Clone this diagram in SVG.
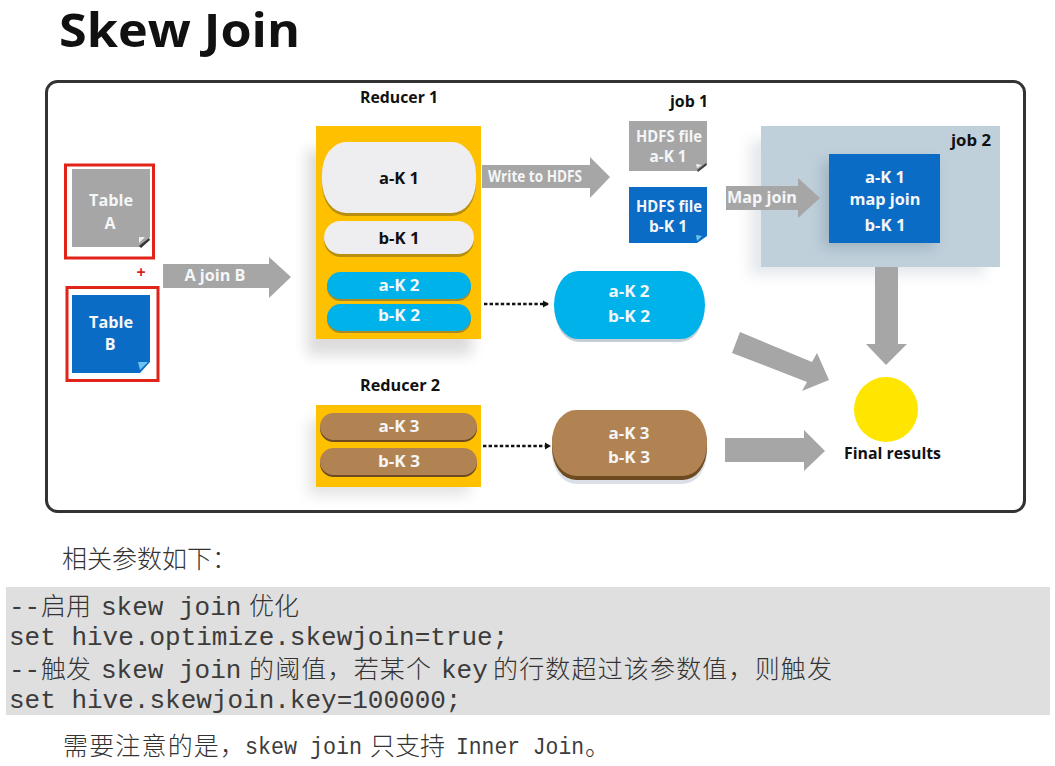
<svg xmlns="http://www.w3.org/2000/svg" width="1055" height="766" viewBox="0 0 1055 766">
<style>
  .lbl { font-family: "Open Sans", "Liberation Sans", sans-serif; font-weight: 700; font-size: 16px; text-anchor: middle; }
  .w { fill: #f4f6f8; }
  .k { fill: #111; }
  .hd { font-family: "Open Sans", "Liberation Sans", sans-serif; font-weight: 700; font-size: 16px; fill: #111; }
  .arrow { fill: #a6a6a6; }
  .mono { font-family: "Liberation Mono", monospace; font-size: 26px; fill: #3c3c3c; }
  .cjk { font-family: "Noto Sans CJK SC", sans-serif; font-size: 25px; fill: #333; font-weight: 300; }
  .dot { fill: none; stroke: #111; stroke-width: 2.4; stroke-dasharray: 3.4 2.2; }
</style>
<defs>
  <filter id="soft" x="-30%" y="-30%" width="160%" height="160%"><feGaussianBlur stdDeviation="7"/></filter>
  <marker id="tip" viewBox="0 0 8 8" refX="6" refY="4" markerWidth="8" markerHeight="8" markerUnits="userSpaceOnUse" orient="auto"><path d="M1 0.5 L7 4 L1 7.5 Z" fill="#111"/></marker>
</defs>
<rect width="1055" height="766" fill="#fff"/>

<text id="title" x="59" y="47" font-family="'Open Sans','Liberation Sans',sans-serif" font-weight="700" font-size="46" fill="#111" textLength="241" lengthAdjust="spacingAndGlyphs">Skew Join</text>

<rect id="frame" x="46.5" y="81.5" width="978" height="430" rx="11" fill="#fff" stroke="#333" stroke-width="3"/>

<g id="job2">
  <rect x="750" y="140" width="235" height="135" fill="#e4e8ec" filter="url(#soft)"/>
  <rect x="761" y="126" width="239" height="141" fill="#bfd0db"/>
  <rect x="823" y="160" width="112" height="88" fill="#9fb2be" filter="url(#soft)"/>
  <rect x="829" y="154" width="111" height="89" fill="#0a6cc4"/>
  <text class="hd" x="951" y="146" textLength="40" lengthAdjust="spacingAndGlyphs">job 2</text>
  <text class="lbl w" x="885" y="183" textLength="40" lengthAdjust="spacingAndGlyphs">a-K 1</text>
  <text class="lbl w" x="885" y="205" textLength="71" lengthAdjust="spacingAndGlyphs">map join</text>
  <text class="lbl w" x="885" y="231" textLength="41" lengthAdjust="spacingAndGlyphs">b-K 1</text>
</g>

<g id="table-a">
  <rect x="65.5" y="165" width="88" height="93" fill="#fff" stroke="#e2231a" stroke-width="3"/>
  <path d="M72 169 H150 V237 L140 247 H72 Z" fill="#a6a6a6"/>
  <path d="M139 246 L149 238 L150 240 L141 248 Z" fill="#333"/>
  <path d="M139 237 L145 237 L139 243 Z" fill="#eee"/>
  <text class="lbl w" x="111" y="206" textLength="44" lengthAdjust="spacingAndGlyphs">Table</text>
  <text class="lbl w" x="110" y="229">A</text>
</g>
<text id="plus" x="141" y="278" font-family="'Open Sans',sans-serif" font-weight="700" font-size="16" fill="#d8231c" text-anchor="middle">+</text>
<g id="table-b">
  <rect x="67" y="287.5" width="91" height="93" fill="#fff" stroke="#e2231a" stroke-width="3"/>
  <path d="M72 295 H150 V362 L140 373 H72 Z" fill="#0a6cc4"/>
  <path d="M138 362 L148 362 L140 370 Z" fill="#6cc3ee"/>
  <text class="lbl w" x="111" y="328" textLength="44" lengthAdjust="spacingAndGlyphs">Table</text>
  <text class="lbl w" x="110" y="350">B</text>
</g>

<g id="reducer-1">
  <rect x="307" y="150" width="165" height="205" fill="#dcdcdc" filter="url(#soft)"/>
  <rect x="316" y="126" width="165" height="213" fill="#ffc000"/>
  <rect x="322" y="144" width="154" height="72" rx="24" ry="32" fill="#b98f10"/>
  <rect x="322" y="142" width="154" height="71" rx="24" ry="32" fill="#eeeef0"/>
  <rect x="324" y="223" width="150" height="34" rx="17" fill="#b98f10"/>
  <rect x="324" y="221" width="150" height="33" rx="16.5" fill="#eeeef0"/>
  <rect x="327" y="274" width="144" height="27" rx="13.5" fill="#a98a20"/>
  <rect x="327" y="272" width="144" height="27" rx="13.5" fill="#00b2ea"/>
  <rect x="327" y="306" width="144" height="27" rx="13.5" fill="#a98a20"/>
  <rect x="327" y="304" width="144" height="27" rx="13.5" fill="#00b2ea"/>
  <text class="hd" x="360" y="103" textLength="78" lengthAdjust="spacingAndGlyphs">Reducer 1</text>
  <text class="lbl k" x="399" y="184" textLength="40" lengthAdjust="spacingAndGlyphs">a-K 1</text>
  <text class="lbl k" x="399" y="244" textLength="41" lengthAdjust="spacingAndGlyphs">b-K 1</text>
  <text class="lbl w" x="399" y="291" textLength="41" lengthAdjust="spacingAndGlyphs">a-K 2</text>
  <text class="lbl w" x="399" y="321" textLength="42" lengthAdjust="spacingAndGlyphs">b-K 2</text>
</g>

<g id="reducer-2">
  <rect x="309" y="420" width="160" height="75" fill="#e2e2e2" filter="url(#soft)"/>
  <rect x="316" y="405" width="165" height="82" fill="#ffc000"/>
  <rect x="320" y="415" width="157" height="27" rx="13.5" fill="#6e4a20"/>
  <rect x="320" y="413" width="157" height="27" rx="13.5" fill="#b28352"/>
  <rect x="320" y="450" width="157" height="27" rx="13.5" fill="#6e4a20"/>
  <rect x="320" y="448" width="157" height="27" rx="13.5" fill="#b28352"/>
  <text class="hd" x="360" y="391" textLength="80" lengthAdjust="spacingAndGlyphs">Reducer 2</text>
  <text class="lbl w" x="399" y="432" textLength="41" lengthAdjust="spacingAndGlyphs">a-K 3</text>
  <text class="lbl w" x="399" y="467" textLength="42" lengthAdjust="spacingAndGlyphs">b-K 3</text>
</g>

<text id="job1" class="hd" x="670" y="107" textLength="38" lengthAdjust="spacingAndGlyphs">job 1</text>
<g id="hdfs-a">
  <path d="M629 121 H707 V164 L697 171 H629 Z" fill="#a6a6a6"/>
  <path d="M697 170 L706 163 L707 165 L698 172 Z" fill="#444"/>
  <path d="M696 164 L702 165 L697 168 Z" fill="#eee"/>
  <text class="lbl w" x="669" y="142" textLength="66" lengthAdjust="spacingAndGlyphs">HDFS file</text>
  <text class="lbl w" x="668" y="162" textLength="37" lengthAdjust="spacingAndGlyphs">a-K 1</text>
</g>
<g id="hdfs-b">
  <path d="M629 187 H707 V236 L697 243 H629 Z" fill="#0a6cc4"/>
  <path d="M696 235 L702 236 L697 241 Z" fill="#6cc3ee"/>
  <text class="lbl w" x="669" y="212" textLength="66" lengthAdjust="spacingAndGlyphs">HDFS file</text>
  <text class="lbl w" x="668" y="232" textLength="38" lengthAdjust="spacingAndGlyphs">b-K 1</text>
</g>

<g id="skew-k2">
  <rect x="555" y="274" width="149" height="68" rx="24" ry="32" fill="#c4ced4"/>
  <rect x="554" y="271" width="151" height="68" rx="24" ry="34" fill="#00b2ea"/>
  <text class="lbl w" x="629" y="297" textLength="41" lengthAdjust="spacingAndGlyphs">a-K 2</text>
  <text class="lbl w" x="629" y="322" textLength="42" lengthAdjust="spacingAndGlyphs">b-K 2</text>
</g>
<g id="skew-k3">
  <rect x="552" y="414" width="155" height="70" rx="24" ry="32" fill="#dbe0e8"/>
  <rect x="552" y="412" width="155" height="68" rx="24" ry="32" fill="#6e4a20"/>
  <rect x="552" y="410" width="155" height="66" rx="24" ry="32" fill="#b28352"/>
  <text class="lbl w" x="629" y="439" textLength="41" lengthAdjust="spacingAndGlyphs">a-K 3</text>
  <text class="lbl w" x="629" y="463" textLength="42" lengthAdjust="spacingAndGlyphs">b-K 3</text>
</g>

<g id="final-results">
  <ellipse cx="886" cy="409.5" rx="32" ry="32.5" fill="#ffe600"/>
  <text class="hd" x="844" y="459" textLength="97" lengthAdjust="spacingAndGlyphs">Final results</text>
</g>

<g id="connectors">
  <polygon class="arrow" points="163,264 269,264 269,257 291,277 269,298 269,288 163,288"/>
  <polygon class="arrow" points="482,165 590,165 590,157 610,177 590,198 590,188 482,188"/>
  <polygon class="arrow" points="726,186 798,186 798,178 820,198 798,218 798,210 726,210"/>
  <polygon class="arrow" points="875,267 898,267 898,344 907,344 886,365 866,344 875,344"/>
  <polygon class="arrow" points="740,332 812,362 817,353 829,380 802,391 807,382 732,353"/>
  <polygon class="arrow" points="725,438 804,438 804,430 825,451 804,471 804,462 725,462"/>
  <path class="dot" d="M484 304 H548" marker-end="url(#tip)"/>
  <path class="dot" d="M483 446 H550" marker-end="url(#tip)"/>
  <text class="lbl w" x="215" y="281" textLength="61" lengthAdjust="spacingAndGlyphs">A join B</text>
  <text class="lbl w" x="535" y="182" textLength="94" lengthAdjust="spacingAndGlyphs">Write to HDFS</text>
  <text class="lbl w" x="762" y="203" textLength="70" lengthAdjust="spacingAndGlyphs">Map join</text>
</g>

<g id="notes">
  <text class="cjk" x="62" y="568">相关参数如下：</text>
  <rect x="6" y="587" width="1044" height="128" fill="#dfdfdf"/>
  <text class="mono" x="9" y="615">--</text>
  <text class="cjk" x="41" y="615">启用</text>
  <text class="mono" x="101" y="615">skew join</text>
  <text class="cjk" x="249" y="615">优化</text>
  <text class="mono" x="9" y="645">set hive.optimize.skewjoin=true;</text>
  <text class="mono" x="9" y="678">--</text>
  <text class="cjk" x="41" y="678">触发</text>
  <text class="mono" x="101" y="678">skew join</text>
  <text class="cjk" x="249" y="678" textLength="182">的阈值，若某个</text>
  <text class="mono" x="441" y="678">key</text>
  <text class="cjk" x="493" y="678" textLength="339">的行数超过该参数值，则触发</text>
  <text class="mono" x="9" y="708">set hive.skewjoin.key=100000;</text>
  <text class="cjk" x="63" y="755" textLength="182">需要注意的是，</text>
  <text class="mono" x="245" y="754" style="font-size:24px" textLength="117" lengthAdjust="spacingAndGlyphs">skew join</text>
  <text class="cjk" x="370" y="755">只支持</text>
  <text class="mono" x="456" y="754" style="font-size:24px" textLength="128" lengthAdjust="spacingAndGlyphs">Inner Join</text>
  <text class="cjk" x="585" y="755">。</text>
</g>
</svg>
